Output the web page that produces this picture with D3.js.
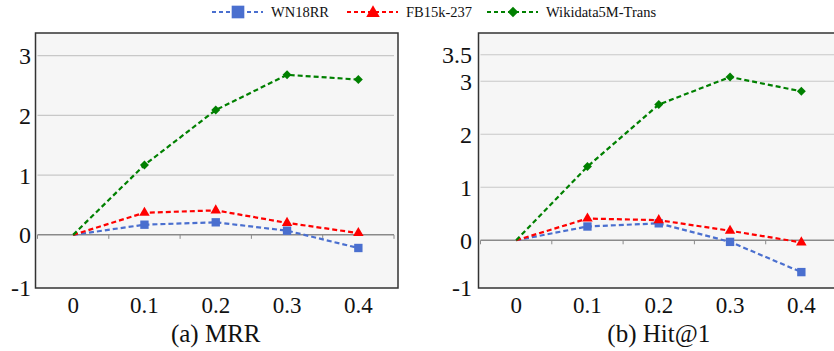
<!DOCTYPE html>
<html>
<head>
<meta charset="utf-8">
<script src="https://cdn.jsdelivr.net/npm/d3@7"></script>
<style>
  body { margin: 0; background: #fff; }
  svg text { font-family: "Liberation Serif", "Times New Roman", Times, serif; }
</style>
</head>
<body>
<svg id="chart" width="834" height="351"></svg>
<script>
// categories (drop ratio) and series
const ratios = ['0', '0.1', '0.2', '0.3', '0.4'];
const seriesNames = ['WN18RR', 'FB15k-237', 'Wikidata5M-Trans'];

const mrrWN = [0, 0.17, 0.21, 0.07, -0.22];
const mrrFB = [0, 0.37, 0.41, 0.20, 0.03];
const mrrWD = [0, 1.17, 2.09, 2.68, 2.60];

const hitWN = [0, 0.26, 0.32, -0.03, -0.60];
const hitFB = [0, 0.41, 0.38, 0.18, -0.04];
const hitWD = [0, 1.39, 2.56, 3.08, 2.81];

const mrrTicks = [-1, 0, 1, 2, 3];
const hitTicks = [-1, 0, 1, 2, 3, 3.5];

const colors = ['#4a6fcf', '#ff0000', '#008000'];

const svg = d3.select('#chart');

// square, triangle, diamond (a square turned 45 degrees)
function marker(sel, s, size, cx, cy) {
  if (s === 2) {
    sel.attr('d', d3.symbol().type(d3.symbolSquare).size(size))
      .attr('transform', 'translate(' + cx + ',' + cy + ') rotate(45)');
  } else {
    sel.attr('d', d3.symbol().type(s === 0 ? d3.symbolSquare : d3.symbolTriangle).size(size))
      .attr('transform', 'translate(' + cx + ',' + cy + ')');
  }
}

function drawPanel(opts) {
  const g = svg.append('g');
  const x = d3.scaleBand().domain(ratios).range([opts.x0, opts.x1]);
  const y = d3.scaleLinear().domain(opts.yDomain).range([288, 33]);

  // background
  g.append('rect')
    .attr('x', opts.boxL).attr('y', 33)
    .attr('width', opts.boxR - opts.boxL).attr('height', 255)
    .attr('fill', '#f6f6f6')
    .attr('stroke', '#333').attr('stroke-width', 1.5);

  // grid lines
  g.selectAll('.grid')
    .data(opts.ticks.filter(t => t > 0))
    .enter().append('line')
    .attr('x1', opts.x0).attr('x2', opts.x1)
    .attr('y1', d => y(d)).attr('y2', d => y(d))
    .attr('stroke', '#c8c8c8').attr('stroke-width', 1.2);

  // zero axis with tick marks
  g.append('line')
    .attr('x1', opts.x0).attr('x2', opts.x1)
    .attr('y1', y(0)).attr('y2', y(0))
    .attr('stroke', '#8a8a8a').attr('stroke-width', 1.5);
  const tickXs = ratios.map(r => x(r)).concat([opts.x1]);
  g.selectAll('.tk')
    .data(tickXs)
    .enter().append('line')
    .attr('x1', d => d).attr('x2', d => d)
    .attr('y1', y(0)).attr('y2', y(0) + 4)
    .attr('stroke', '#8a8a8a').attr('stroke-width', 1);

  // y tick labels
  g.selectAll('.yl')
    .data(opts.ticks)
    .enter().append('text')
    .attr('x', opts.labelR)
    .attr('y', d => y(Math.max(d, opts.yDomain[0])))
    .attr('dy', '0.35em')
    .attr('text-anchor', 'end')
    .attr('font-size', 24)
    .attr('fill', '#111')
    .text(d => d);

  // x tick labels
  g.selectAll('.xl')
    .data(ratios)
    .enter().append('text')
    .attr('x', d => x(d) + x.bandwidth() / 2)
    .attr('y', 305)
    .attr('dy', '0.35em')
    .attr('text-anchor', 'middle')
    .attr('font-size', 23)
    .attr('fill', '#111')
    .text(d => d);

  // title
  g.append('text')
    .attr('x', (x('0') + x('0.4')) / 2 + x.bandwidth() / 2)
    .attr('y', 333)
    .attr('dy', '0.35em')
    .attr('text-anchor', 'middle')
    .attr('font-size', 25)
    .attr('fill', '#111')
    .text(opts.title);

  const line = d3.line()
    .x((d, i) => x(ratios[i]) + x.bandwidth() / 2)
    .y(d => y(d));

  opts.series.forEach((vals, s) => {
    g.append('path')
      .datum(vals)
      .attr('d', line)
      .attr('fill', 'none')
      .attr('stroke', colors[s])
      .attr('stroke-width', 2.2)
      .attr('stroke-dasharray', '5,3');
  });
  opts.series.forEach((vals, s) => {
    g.selectAll('.m' + s)
      .data(vals.slice(1))
      .enter().append('path')
      .attr('fill', colors[s])
      .each(function (d, i) {
        marker(d3.select(this), s, s === 0 ? 70 : (s === 1 ? 48 : 40),
          x(ratios[i + 1]) + x.bandwidth() / 2, y(d));
      });
  });
}

drawPanel({
  x0: 37.5, x1: 394, boxL: 35.5, boxR: 398,
  yDomain: [-0.89, 3.38], ticks: mrrTicks, labelR: 31,
  series: [mrrWN, mrrFB, mrrWD], title: '(a) MRR'
});

drawPanel({
  x0: 480.5, x1: 837, boxL: 478.5, boxR: 842,
  yDomain: [-0.9, 3.91], ticks: hitTicks, labelR: 472,
  series: [hitWN, hitFB, hitWD], title: '(b) Hit@1'
});

// legend
const legendX = [212, 347, 487];
const legend = svg.append('g');
seriesNames.forEach((name, s) => {
  const lx = legendX[s];
  legend.append('line')
    .attr('x1', lx).attr('x2', lx + 51)
    .attr('y1', 12).attr('y2', 12)
    .attr('stroke', colors[s]).attr('stroke-width', 2.2)
    .attr('stroke-dasharray', '4,3');
  legend.append('path')
    .attr('fill', colors[s])
    .call(marker, s, s === 0 ? 160 : (s === 1 ? 80 : 55), lx + 26, s === 1 ? 13 : 12);
  legend.append('text')
    .attr('x', lx + 59).attr('y', 12)
    .attr('dy', '0.35em')
    .attr('font-size', 14.5)
    .attr('fill', '#111')
    .text(name);
});
</script>
</body>
</html>
